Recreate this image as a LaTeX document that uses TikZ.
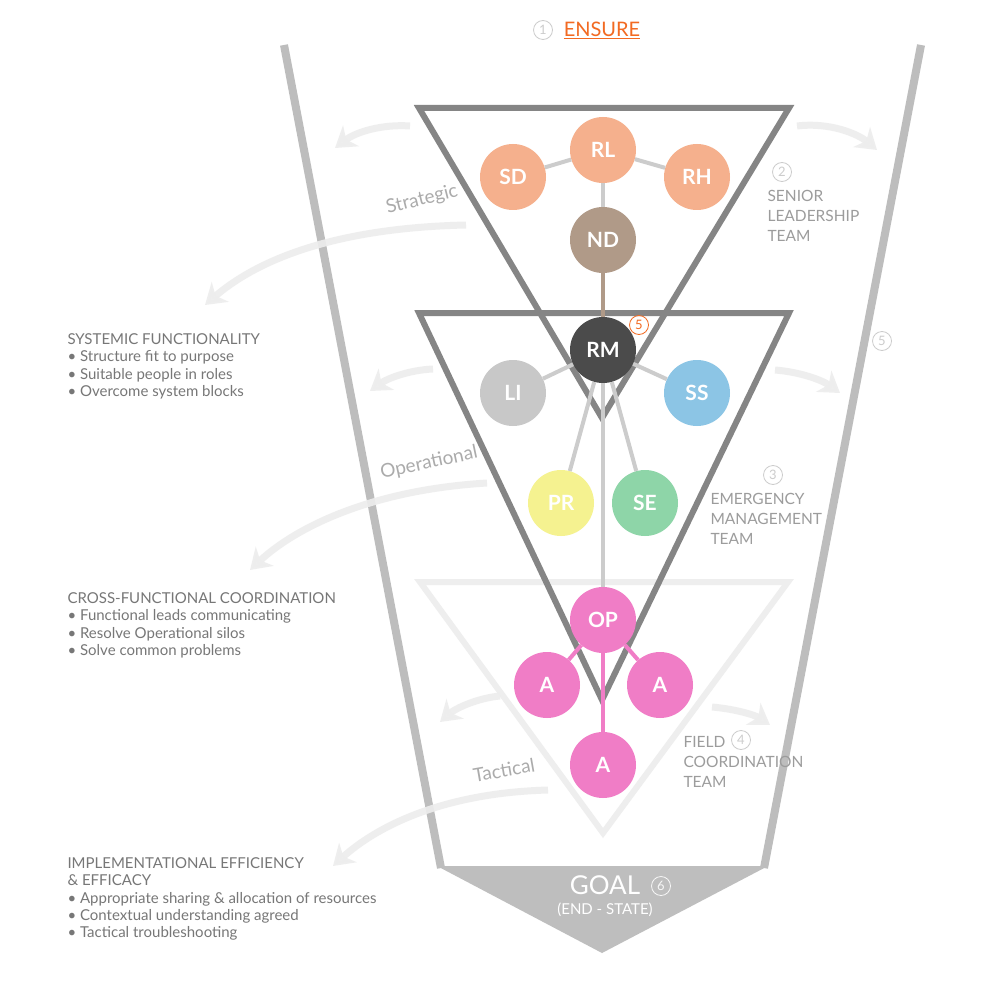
\documentclass[tikz,border=0pt]{standalone}
\usepackage{fontspec}
\setmainfont{Lato}
\usetikzlibrary{arrows.meta}
\definecolor{funnel}{HTML}{BDBDBD}
\definecolor{tridark}{HTML}{858585}
\definecolor{trilight}{HTML}{EEEEEE}
\definecolor{arrowc}{HTML}{EDEDED}
\definecolor{peach}{HTML}{F5B08D}
\definecolor{brownn}{HTML}{B09A88}
\definecolor{darkn}{HTML}{4B4B4B}
\definecolor{grayn}{HTML}{C8C8C8}
\definecolor{bluen}{HTML}{8CC5E5}
\definecolor{yellown}{HTML}{F5F290}
\definecolor{greenn}{HTML}{8ED5A8}
\definecolor{pinkn}{HTML}{F07DC6}
\definecolor{linkc}{HTML}{CCCCCC}
\definecolor{labelc}{HTML}{9C9C9C}
\definecolor{textc}{HTML}{777777}
\definecolor{orangec}{HTML}{F26A22}
\definecolor{goalc}{HTML}{BEBEBE}
\tikzset{
  role/.style={circle, minimum size=66pt, inner sep=0pt, text=white, font=\fontsize{21}{21}\selectfont\bfseries},
  link/.style={line width=4pt, linkc},
  num/.style={circle, draw=#1, text=#1, line width=0.8pt, minimum size=19pt, inner sep=0pt, font=\fontsize{13}{13}\selectfont},
  flowarrow/.style={line width=7pt, arrowc, opacity=0.9, -{Stealth[length=20pt,width=26pt,inset=6pt]}},
  team/.style={align=left, anchor=north west, text=labelc, font=\fontsize{15.5}{20}\selectfont},
  info/.style={align=left, anchor=north west, text=textc, font=\fontsize{15}{17.3}\selectfont},
  level/.style={text=labelc!85, font=\fontsize{19}{19}\selectfont, inner sep=1pt}
}
\begin{document}
\begin{tikzpicture}[x=1pt,y=-1pt]
\useasboundingbox[fill=white] (0,0) rectangle (1000,1000);
% funnel
\coordinate (fl1) at (284,45); \coordinate (fl2) at (441,868);
\coordinate (fr1) at (921,45); \coordinate (fr2) at (764,868);
\coordinate (g1) at (437,866); \coordinate (g2) at (768,866); \coordinate (g3) at (602,953);
\fill[goalc] (g1) -- (g2) -- (g3) -- cycle;
\draw[funnel, line width=8pt] (fl1) -- (fl2);
\draw[funnel, line width=8pt] (fr1) -- (fr2);
% light triangle (tactical)
\coordinate (t3a) at (420,582); \coordinate (t3b) at (788,582); \coordinate (t3c) at (603,833);
\draw[trilight, line width=6pt, line join=miter] (t3a) -- (t3b) -- (t3c) -- cycle;
% flow arrows
\coordinate (s1) at (466,225); \coordinate (s2) at (205,305);
\coordinate (o1) at (487,483); \coordinate (o2) at (250,570);
\coordinate (c1) at (548,790); \coordinate (c2) at (333,866);
\draw[flowarrow] (s1) .. controls (330,228) and (255,262) .. (s2);
\draw[flowarrow] (o1) .. controls (370,490) and (295,528) .. (o2);
\draw[flowarrow] (c1) .. controls (440,793) and (375,828) .. (c2);
\coordinate (a1) at (410,126); \coordinate (a2) at (335,148);
\coordinate (b1) at (797,126); \coordinate (b2) at (877,150);
\coordinate (d1) at (433,369); \coordinate (d2) at (370,391);
\coordinate (e1) at (775,370); \coordinate (e2) at (840,393);
\coordinate (f1) at (500,696); \coordinate (f2) at (440,722);
\coordinate (h1) at (712,707); \coordinate (h2) at (770,725);
\draw[flowarrow] (a1) .. controls (382,124) and (356,132) .. (a2);
\draw[flowarrow] (b1) .. controls (830,122) and (858,134) .. (b2);
\draw[flowarrow] (d1) .. controls (410,370) and (388,378) .. (d2);
\draw[flowarrow] (e1) .. controls (800,372) and (822,380) .. (e2);
\draw[flowarrow] (f1) .. controls (478,698) and (456,708) .. (f2);
\draw[flowarrow] (h1) .. controls (735,709) and (755,715) .. (h2);
% dark triangles
\coordinate (t1a) at (419,108); \coordinate (t1b) at (789,108); \coordinate (t1c) at (602,418);
\coordinate (t2a) at (419,313); \coordinate (t2b) at (789,313); \coordinate (t2c) at (602,700);
\draw[tridark, line width=6pt, line join=miter] (t1a) -- (t1b) -- (t1c) -- cycle;
\draw[tridark, line width=6pt, line join=miter] (t2a) -- (t2b) -- (t2c) -- cycle;
% nodes
\node[role, fill=peach] (RL) at (603,150) {RL};
\node[role, fill=peach] (SD) at (513,177) {SD};
\node[role, fill=peach] (RH) at (697,177) {RH};
\node[role, fill=brownn] (ND) at (603,240) {ND};
\node[role, fill=darkn] (RM) at (603,350) {RM};
\node[role, fill=grayn] (LI) at (513,393) {LI};
\node[role, fill=bluen] (SS) at (697,393) {SS};
\node[role, fill=yellown] (PR) at (561,503) {PR};
\node[role, fill=greenn] (SE) at (645,503) {SE};
\node[role, fill=pinkn] (OP) at (603,620) {OP};
\node[role, fill=pinkn] (AL) at (547,685) {A};
\node[role, fill=pinkn] (AR) at (660,685) {A};
\node[role, fill=pinkn] (AB) at (603,765) {A};
% links
\draw[link] (RL) -- (SD);
\draw[link] (RL) -- (RH);
\draw[link] (RL) -- (ND);
\draw[link, brownn] (ND) -- (RM);
\draw[link] (RM) -- (LI);
\draw[link] (RM) -- (SS);
\draw[link] (RM) -- (PR);
\draw[link] (RM) -- (SE);
\draw[link] (RM) -- (OP);
\draw[link, pinkn] (OP) -- (AL);
\draw[link, pinkn] (OP) -- (AR);
\draw[link, pinkn] (OP) -- (AB);
% circled numbers
\node[num=orangec] (n5o) at (639,325) {5};
\node[num=linkc] (n1) at (543,30) {1};
\node[num=linkc] (n2) at (782,172) {2};
\node[num=linkc] (n3) at (773,475) {3};
\node[num=linkc] (n4) at (741,740) {4};
\node[num=linkc] (n5) at (882,341) {5};
\node[num=white!88!goalc] (n6) at (661,886) {6};
% title
\node[text=orangec, font=\fontsize{20}{20}\selectfont, inner sep=0pt] (title) at (602,30) {\underline{ENSURE}};
% team labels
\node[team] (slt) at (764,187) {SENIOR\\LEADERSHIP\\TEAM};
\node[team] (emt) at (707,490) {EMERGENCY\\MANAGEMENT\\TEAM};
\node[team] (fct) at (680,733) {FIELD\\COORDINATION\\TEAM};
% level labels
\node[level, rotate=14] (strat) at (422,200) {Strategic};
\node[level, rotate=12] (oper) at (429,463) {Operational};
\node[level, rotate=10] (tact) at (504,770) {Tactical};
% info blocks
\node[info] (sys) at (64,330) {SYSTEMIC FUNCTIONALITY\\\textbullet\ Structure fit to purpose\\\textbullet\ Suitable people in roles\\\textbullet\ Overcome system blocks};
\node[info] (cross) at (64,589) {CROSS-FUNCTIONAL COORDINATION\\\textbullet\ Functional leads communicating\\\textbullet\ Resolve Operational silos\\\textbullet\ Solve common problems};
\node[info] (impl) at (64,854) {IMPLEMENTATIONAL EFFICIENCY\\\&\ EFFICACY\\\textbullet\ Appropriate sharing \& allocation of resources\\\textbullet\ Contextual understanding agreed\\\textbullet\ Tactical troubleshooting};
% goal
\node[text=white, font=\fontsize{26}{26}\selectfont] (goal) at (605,885) {GOAL};
\node[text=white, font=\fontsize{15}{15}\selectfont] (end) at (605,910) {(END - STATE)};
\end{tikzpicture}
\end{document}
